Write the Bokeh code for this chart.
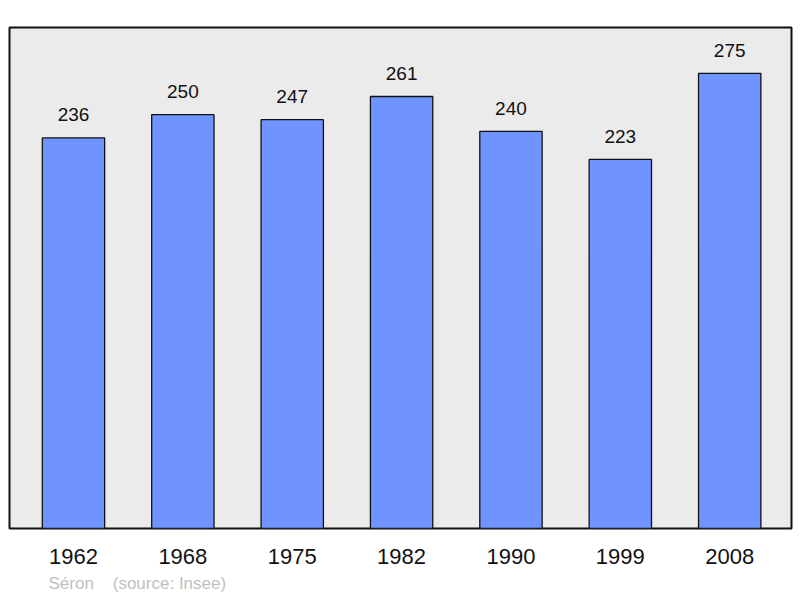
from bokeh.plotting import figure
from bokeh.models import ColumnDataSource, Range1d, FixedTicker, Title
from bokeh.core.properties import value
from bokeh.embed import file_html
from bokeh.resources import INLINE

years = ["1962", "1968", "1975", "1982", "1990", "1999", "2008"]
population = [236, 250, 247, 261, 240, 223, 275]
commune = "Séron"
source_note = "(source: Insee)"

xs = list(range(len(years)))
src = ColumnDataSource(dict(x=xs, top=population, label=[str(v) for v in population]))

p = figure(width=800, height=598, output_backend="svg", toolbar_location=None,
           x_range=Range1d(-0.585, 6.565), y_range=Range1d(0, 302.7),
           min_border_left=9, min_border_right=9, min_border_top=27, min_border_bottom=70)
p.background_fill_color = "#ebebeb"
p.border_fill_color = "white"
p.outline_line_color = "#111111"
p.outline_line_width = 2
p.grid.visible = False
p.yaxis.visible = False

p.vbar(x="x", top="top", width=0.57, bottom=0, source=src,
       fill_color="#7094ff", line_color="#111111", line_width=1.3)
p.text(x="x", y="top", text="label", source=src, text_align="center",
       text_baseline="middle", y_offset=-23, text_font=value("Liberation Sans"),
       text_font_size="19px", text_color="#111111")

ax = p.xaxis[0]
ax.ticker = FixedTicker(ticks=xs)
ax.major_label_overrides = {i: y for i, y in zip(xs, years)}
ax.axis_line_color = None
ax.major_tick_line_color = None
ax.minor_tick_line_color = None
ax.major_label_text_font = "Liberation Sans"
ax.major_label_text_font_size = "22px"
ax.major_label_text_color = "#111111"
ax.major_label_standoff = 14

p.add_layout(Title(text=commune + "\u00a0\u00a0\u00a0\u00a0" + source_note,
                   align="left", offset=39, text_font="Liberation Sans",
                   text_font_size="17px", text_font_style="normal",
                   text_color="#c0c0c0", standoff=10), "below")

open("out.html", "w").write(file_html(p, INLINE))
